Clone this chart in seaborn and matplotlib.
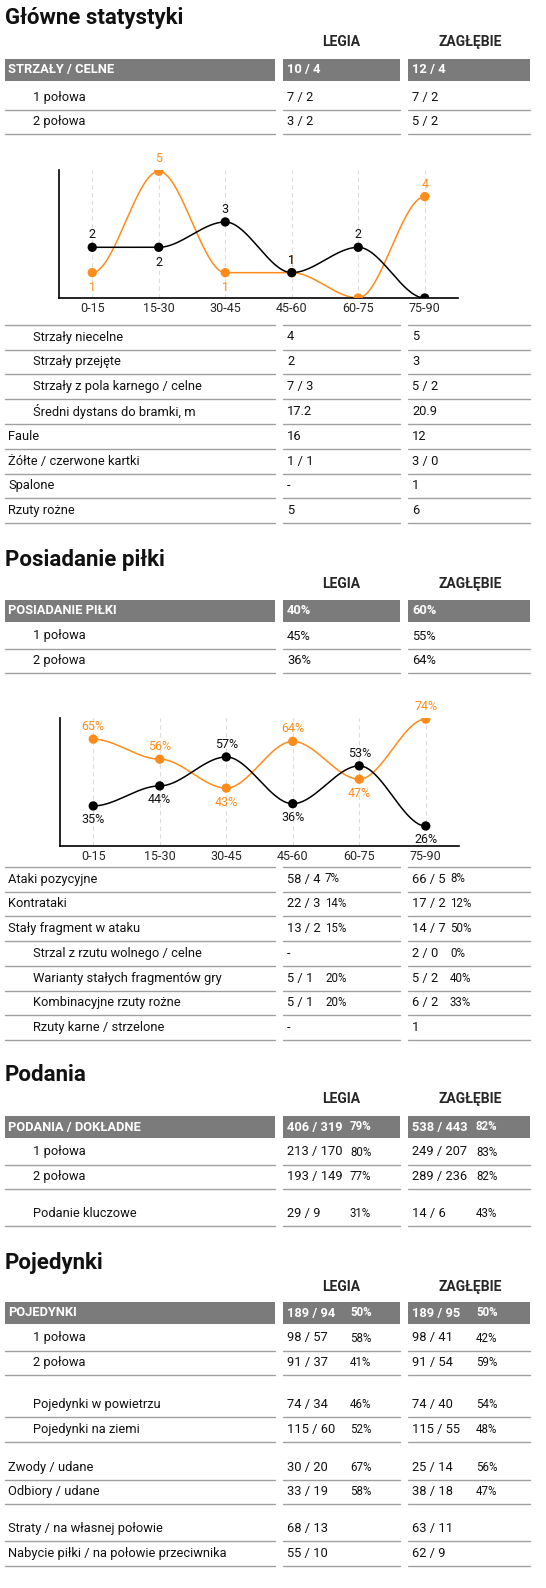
import numpy as np
import matplotlib
matplotlib.use("Agg")
import matplotlib.pyplot as plt
import seaborn as sns
import pandas as pd

sns.set_theme(style="white")
plt.rcParams['font.family'] = ['Roboto', 'DejaVu Sans']

ORANGE = "#ff8c1a"
GRAY = "#7b7b7b"
LINE = "#a0a0a0"

periods = ["0-15", "15-30", "30-45", "45-60", "60-75", "75-90"]
shots_legia = [2, 2, 3, 1, 2, 0]
shots_zag = [1, 5, 1, 1, 0, 4]
poss_legia = [35, 44, 57, 36, 53, 26]
poss_zag = [65, 56, 43, 64, 47, 74]

sec1_header = ("STRZAŁY / CELNE", "10 / 4", "12 / 4")
sec1_top = [("1 połowa", "7 / 2", "7 / 2", 1), ("2 połowa", "3 / 2", "5 / 2", 1)]
sec1_rows = [("Strzały niecelne", "4", "5", 1), ("Strzały przejęte", "2", "3", 1),
             ("Strzały z pola karnego / celne", "7 / 3", "5 / 2", 1),
             ("Średni dystans do bramki, m", "17.2", "20.9", 1),
             ("Faule", "16", "12", 0), ("Żółte / czerwone kartki", "1 / 1", "3 / 0", 0),
             ("Spalone", "-", "1", 0), ("Rzuty rożne", "5", "6", 0)]
sec2_header = ("POSIADANIE PIŁKI", "40%", "60%")
sec2_top = [("1 połowa", "45%", "55%", 1), ("2 połowa", "36%", "64%", 1)]
sec2_rows = [("Ataki pozycyjne", "58 / 4", "7%", "66 / 5", "8%", 0),
             ("Kontrataki", "22 / 3", "14%", "17 / 2", "12%", 0),
             ("Stały fragment w ataku", "13 / 2", "15%", "14 / 7", "50%", 0),
             ("Strzal z rzutu wolnego / celne", "-", "", "2 / 0", "0%", 1),
             ("Warianty stałych fragmentów gry", "5 / 1", "20%", "5 / 2", "40%", 1),
             ("Kombinacyjne rzuty rożne", "5 / 1", "20%", "6 / 2", "33%", 1),
             ("Rzuty karne / strzelone", "-", "", "1", "", 1)]
sec3_header = ("PODANIA / DOKŁADNE", "406 / 319", "79%", "538 / 443", "82%")
sec3_rows = [("1 połowa", "213 / 170", "80%", "249 / 207", "83%", 1, 0),
             ("2 połowa", "193 / 149", "77%", "289 / 236", "82%", 1, 0),
             ("Podanie kluczowe", "29 / 9", "31%", "14 / 6", "43%", 1, 12)]
sec4_header = ("POJEDYNKI", "189 / 94", "50%", "189 / 95", "50%")
sec4_rows = [("1 połowa", "98 / 57", "58%", "98 / 41", "42%", 1, 0),
             ("2 połowa", "91 / 37", "41%", "91 / 54", "59%", 1, 0),
             ("Pojedynki w powietrzu", "74 / 34", "46%", "74 / 40", "54%", 1, 17),
             ("Pojedynki na ziemi", "115 / 60", "52%", "115 / 55", "48%", 1, 0),
             ("Zwody / udane", "30 / 20", "67%", "25 / 14", "56%", 0, 13),
             ("Odbiory / udane", "33 / 19", "58%", "38 / 18", "47%", 0, 0),
             ("Straty / na własnej połowie", "68 / 13", "", "63 / 11", "", 0, 12),
             ("Nabycie piłki / na połowie przeciwnika", "55 / 10", "", "62 / 9", "", 0, 0)]

W, H = 546, 1588
fig = plt.figure(figsize=(W / 100, H / 100), dpi=100)
bg = fig.add_axes([0, 0, 1, 1])
bg.set_xlim(0, W); bg.set_ylim(H, 0); bg.axis("off")

C1 = (5, 275); C2 = (283, 400); C3 = (408, 530)
RH = 24.8
FS = 9.3

def title(y, t):
    bg.text(5, y, t, fontsize=16, fontweight="bold", va="center", ha="left", color="#111")
    bg.text(341, y + 24, "LEGIA", fontsize=10, fontweight="bold", va="center", ha="center")
    bg.text(470, y + 24, "ZAGŁĘBIE", fontsize=10, fontweight="bold", va="center", ha="center")

def header(yc, lab, v1, v2, p1=None, p2=None):
    for (a, b) in (C1, C2, C3):
        bg.add_patch(plt.Rectangle((a, yc - 11), b - a, 22, color=GRAY, lw=0))
    kw = dict(color="white", fontweight="bold", fontsize=FS, va="center")
    bg.text(8, yc, lab, **kw)
    bg.text(287, yc, v1, **kw); bg.text(412, yc, v2, **kw)
    if p1: bg.text(350, yc, p1, color="white", fontsize=8.3, fontweight="bold", va="center")
    if p2: bg.text(476, yc, p2, color="white", fontsize=8.3, fontweight="bold", va="center")

def row(yc, lab, v1, v2, indent, p1="", p2="", pct_x=(325, 450), topline=False):
    kw = dict(fontsize=FS, va="center", color="#111")
    bg.text(33 if indent else 8, yc, lab, **kw)
    bg.text(287, yc, v1, **kw); bg.text(412, yc, v2, **kw)
    if p1: bg.text(pct_x[0], yc, p1, fontsize=8.3, va="center", color="#111")
    if p2: bg.text(pct_x[1], yc, p2, fontsize=8.3, va="center", color="#111")
    for (a, b) in (C1, C2, C3):
        bg.plot([a, b], [yc + 12.5, yc + 12.5], color=LINE, lw=1)
        if topline:
            bg.plot([a, b], [yc - 12.5, yc - 12.5], color=LINE, lw=1)

def smooth(vals, n=40):
    xs, ys = [], []
    for i in range(len(vals) - 1):
        t = np.linspace(0, 1, n)
        s = 3 * t ** 2 - 2 * t ** 3
        xs.extend(i + t); ys.extend(vals[i] + (vals[i + 1] - vals[i]) * s)
    return np.array(xs), np.array(ys)

def chart(top_px, bot_px, left_px, right_px, ylim, series, fmt):
    ax = fig.add_axes([left_px / W, 1 - bot_px / H, (right_px - left_px) / W, (bot_px - top_px) / H])
    ax.set_facecolor("none")
    ax.set_xlim(-0.5, 5.5); ax.set_ylim(*ylim)
    for i in range(6):
        ax.axvline(i, color="#dddddd", ls=(0, (4, 3)), lw=0.8, zorder=0)
    for vals, col, lab_off in series:
        xs, ys = smooth(vals)
        ax.plot(xs, ys, color=col, lw=1.1, zorder=2)
        df = pd.DataFrame({"x": range(6), "y": vals})
        sns.scatterplot(data=df, x="x", y="y", color=col, s=45, edgecolor="none", ax=ax, zorder=3)
        for i, v in enumerate(vals):
            if v == 0:
                continue
            ax.annotate(fmt(v), (i, v), xytext=(0, lab_off[i]), textcoords="offset points",
                        ha="center", va="center", fontsize=9, color=col if col != "black" else "#111",
                        annotation_clip=False)
    ax.set_xticks(range(6)); ax.set_xticklabels(periods, fontsize=9)
    ax.set_yticks([]); ax.set_xlabel(""); ax.set_ylabel("")
    for s in ("top", "right"):
        ax.spines[s].set_visible(False)
    for s in ("left", "bottom"):
        ax.spines[s].set_color("black"); ax.spines[s].set_linewidth(1.2)
    ax.tick_params(axis="x", length=0, pad=3)
    return ax

# Section 1
title(18, "Główne statystyki")
header(70, *sec1_header)
y = 97
for lab, a, b, ind in sec1_top:
    row(y, lab, a, b, ind); y += RH
chart(170, 298, 59, 458, (0, 5.05),
      [(shots_zag, ORANGE, [-11, 9, -11, 9, 9, 9]),
       (shots_legia, "black", [9, -11, 9, 9, 9, 9])], lambda v: f"{v}")
y = 337
for i, (lab, a, b, ind) in enumerate(sec1_rows):
    row(y, lab, a, b, ind, topline=(i == 0)); y += RH

# Section 2
title(560, "Posiadanie piłki")
header(611, *sec2_header)
y = 636
for lab, a, b, ind in sec2_top:
    row(y, lab, a, b, ind); y += RH
chart(718, 846, 60, 459, (17, 74.5),
      [(poss_zag, ORANGE, [9, 9, -10, 9, -10, 9]),
       (poss_legia, "black", [-10, -10, 9, -10, 9, -10])], lambda v: f"{v}%")
y = 879
for i, (lab, a, p1, b, p2, ind) in enumerate(sec2_rows):
    row(y, lab, a, b, ind, p1, p2, topline=(i == 0)); y += RH

# Section 3
title(1075, "Podania")
lab, v1, p1, v2, p2 = sec3_header
header(1127, lab, v1, v2, p1, p2)
y = 1152
for lab, a, p1, b, p2, ind, gap in sec3_rows:
    y += gap
    row(y, lab, a, b, ind, p1, p2, pct_x=(350, 476)); y += RH

# Section 4
title(1263, "Pojedynki")
lab, v1, p1, v2, p2 = sec4_header
header(1313, lab, v1, v2, p1, p2)
y = 1338
for lab, a, p1, b, p2, ind, gap in sec4_rows:
    y += gap
    row(y, lab, a, b, ind, p1, p2, pct_x=(350, 476)); y += RH

fig.savefig("out.png", dpi=100, facecolor="white")
